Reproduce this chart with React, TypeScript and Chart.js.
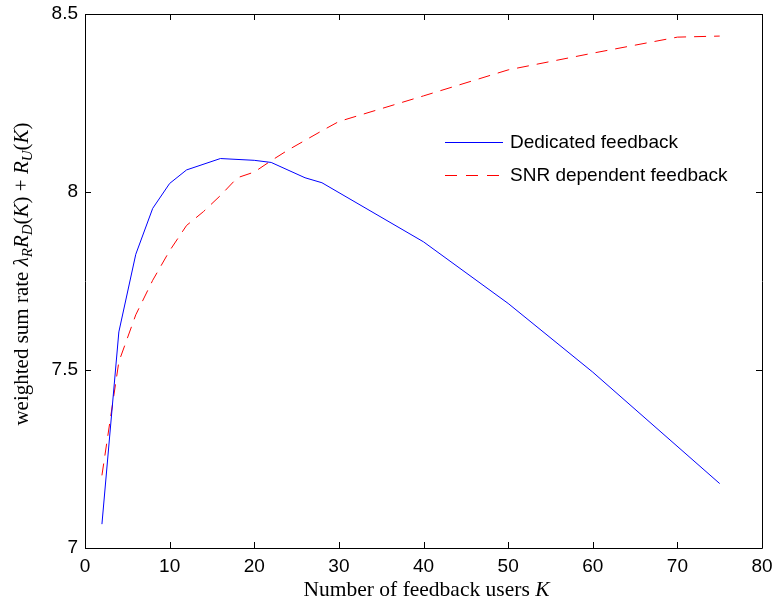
import React, { useEffect, useRef } from "react";
import { Chart, registerables } from "chart.js";

Chart.register(...registerables);

const dedicatedK = [2, 4, 6, 8, 10, 12, 16, 20, 22, 26, 28, 40, 50, 60, 75];
const dedicatedRate = [7.067, 7.607, 7.825, 7.954, 8.024, 8.062, 8.094, 8.089, 8.083, 8.04, 8.026, 7.86, 7.687, 7.494, 7.181];

const snrK = [2, 4, 6, 8, 10, 12, 14, 16, 18, 20, 22, 24, 26, 28, 30, 40, 50, 60, 70, 75];
const snrRate = [7.204, 7.523, 7.655, 7.752, 7.835, 7.906, 7.945, 7.99, 8.04, 8.056, 8.088, 8.118, 8.145, 8.172, 8.198, 8.27, 8.343, 8.39, 8.435, 8.438];

const xTicks = [0, 10, 20, 30, 40, 50, 60, 70, 80];
const yTicks = [7, 7.5, 8, 8.5];

const seriesLabels = ["Dedicated feedback", "SNR dependent feedback"];

const SANS = "'Liberation Sans', Arial, Helvetica, sans-serif";
const SERIF = "'Liberation Serif', 'Times New Roman', serif";

type Seg = { t: string; italic?: boolean; sub?: boolean };

function drawSegs(ctx: CanvasRenderingContext2D, segs: Seg[], size: number, subSize: number, cx: number, baseline: number) {
  const fontOf = (s: Seg) => `${s.italic ? "italic " : ""}${s.sub ? subSize : size}px ${SERIF}`;
  let total = 0;
  for (const s of segs) {
    ctx.font = fontOf(s);
    total += ctx.measureText(s.t).width;
  }
  let x = cx - total / 2;
  ctx.textAlign = "left";
  ctx.textBaseline = "alphabetic";
  for (const s of segs) {
    ctx.font = fontOf(s);
    ctx.fillText(s.t, x, baseline + (s.sub ? 4 : 0));
    x += ctx.measureText(s.t).width;
  }
}

const framePlugin = {
  id: "frame",
  afterDraw(chart: any) {
    const { ctx, chartArea } = chart;
    const { left, right, top, bottom } = chartArea;
    const xs = chart.scales.x;
    const ys = chart.scales.y;
    ctx.save();
    ctx.strokeStyle = "#000";
    ctx.lineWidth = 1;
    ctx.beginPath();
    ctx.rect(Math.round(left) + 0.5, Math.round(top) + 0.5, Math.round(right - left), Math.round(bottom - top));
    ctx.stroke();
    const tl = 6;
    ctx.beginPath();
    for (const v of xTicks) {
      const px = Math.round(xs.getPixelForValue(v)) + 0.5;
      ctx.moveTo(px, bottom);
      ctx.lineTo(px, bottom - tl);
      ctx.moveTo(px, top);
      ctx.lineTo(px, top + tl);
    }
    for (const v of yTicks) {
      const py = Math.round(ys.getPixelForValue(v)) + 0.5;
      ctx.moveTo(left, py);
      ctx.lineTo(left + tl, py);
      ctx.moveTo(right, py);
      ctx.lineTo(right - tl, py);
    }
    ctx.stroke();

    // legend
    const lx0 = right - 317;
    const lx1 = right - 259;
    const tx = right - 252;
    const rows = [
      { y: top + 128, color: "#0000ff", dash: [] as number[], label: seriesLabels[0] },
      { y: top + 161, color: "#ff0000", dash: [12, 9], label: seriesLabels[1] },
    ];
    for (const r of rows) {
      ctx.strokeStyle = r.color;
      ctx.setLineDash(r.dash);
      ctx.beginPath();
      ctx.moveTo(lx0, r.y + 0.5);
      ctx.lineTo(lx1, r.y + 0.5);
      ctx.stroke();
      ctx.setLineDash([]);
      ctx.fillStyle = "#000";
      ctx.font = `19px ${SANS}`;
      ctx.textAlign = "left";
      ctx.textBaseline = "middle";
      ctx.fillText(r.label, tx, r.y + 1);
    }

    // x title
    ctx.fillStyle = "#000";
    drawSegs(ctx, [{ t: "Number of feedback users " }, { t: "K", italic: true }], 21.5, 15, (left + right) / 2 + 3, bottom + 48);

    // y title
    ctx.save();
    ctx.translate(28, (top + bottom) / 2 - 7);
    ctx.rotate(-Math.PI / 2);
    drawSegs(
      ctx,
      [
        { t: "weighted sum rate " },
        { t: "λ", italic: true },
        { t: "R", italic: true, sub: true },
        { t: "R", italic: true },
        { t: "D", italic: true, sub: true },
        { t: "(" },
        { t: "K", italic: true },
        { t: ") + " },
        { t: "R", italic: true },
        { t: "U", italic: true, sub: true },
        { t: "(" },
        { t: "K", italic: true },
        { t: ")" },
      ],
      21,
      15,
      0,
      0
    );
    ctx.restore();
    ctx.restore();
  },
};

export default function App() {
  const ref = useRef<HTMLCanvasElement>(null);
  useEffect(() => {
    document.body.style.margin = "0";
    const canvas = ref.current!;
    const chart = new Chart(canvas, {
      type: "line",
      data: {
        datasets: [
          {
            label: seriesLabels[0],
            data: dedicatedK.map((k, i) => ({ x: k, y: dedicatedRate[i] })),
            borderColor: "#0000ff",
            borderWidth: 1,
            pointRadius: 0,
            fill: false,
            tension: 0,
          },
          {
            label: seriesLabels[1],
            data: snrK.map((k, i) => ({ x: k, y: snrRate[i] })),
            borderColor: "#ff0000",
            borderWidth: 1,
            borderDash: [12, 8],
            pointRadius: 0,
            fill: false,
            tension: 0,
          },
        ],
      },
      options: {
        animation: false,
        responsive: false,
        devicePixelRatio: 1,
        layout: { padding: { left: 0, right: 13, top: 14, bottom: 0 } },
        plugins: { legend: { display: false }, tooltip: { enabled: false } },
        scales: {
          x: {
            type: "linear",
            min: 0,
            max: 80,
            afterBuildTicks: (s: any) => {
              s.ticks = xTicks.map((v) => ({ value: v }));
            },
            afterFit: (s: any) => {
              s.height = 55;
              s.paddingLeft = 0;
              s.paddingRight = 0;
            },
            grid: { display: false, drawTicks: false },
            border: { display: false },
            ticks: { color: "#000", font: { family: SANS, size: 19 }, padding: 7, maxRotation: 0, autoSkip: false },
          },
          y: {
            type: "linear",
            min: 7,
            max: 8.5,
            afterBuildTicks: (s: any) => {
              s.ticks = yTicks.map((v) => ({ value: v }));
            },
            afterFit: (s: any) => {
              s.width = 85;
              s.paddingTop = 0;
              s.paddingBottom = 0;
            },
            grid: { display: false, drawTicks: false },
            border: { display: false },
            ticks: {
              color: "#000",
              font: { family: SANS, size: 19 },
              padding: 7,
              autoSkip: false,
              callback: (v: any) => String(Number(v)),
            },
          },
        },
      },
      plugins: [framePlugin],
    });
    return () => chart.destroy();
  }, []);
  return <canvas ref={ref} width={775} height={603} style={{ display: "block" }} />;
}
